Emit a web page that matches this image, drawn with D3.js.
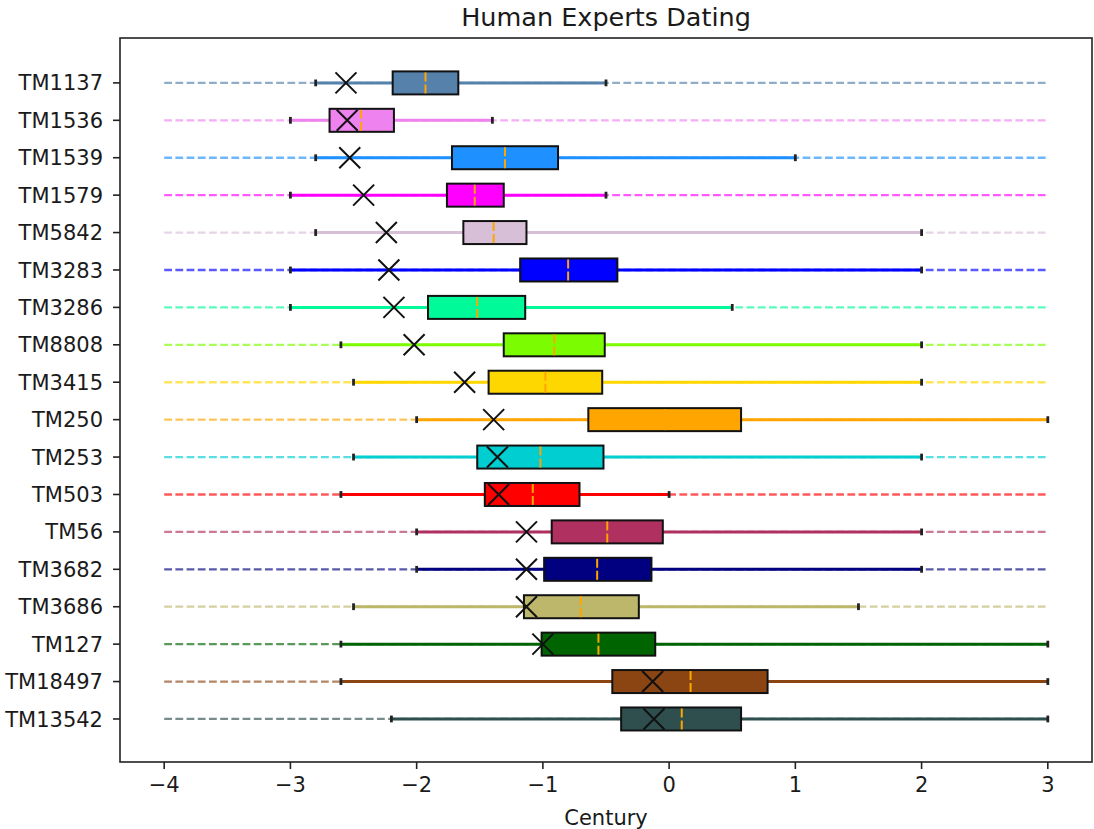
<!DOCTYPE html>
<html>
<head>
<meta charset="utf-8">
<script src="https://cdn.jsdelivr.net/npm/d3@7"></script>
<style>
  html, body { margin: 0; padding: 0; background: #fff; }
  svg { display: block; }
  text { font-family: "DejaVu Sans", sans-serif; fill: #1a1a1a; }
</style>
</head>
<body>
<svg id="chart" width="1094" height="829"></svg>
<script>
const categories = ["TM1137","TM1536","TM1539","TM1579","TM5842","TM3283","TM3286","TM8808","TM3415",
                    "TM250","TM253","TM503","TM56","TM3682","TM3686","TM127","TM18497","TM13542"];
const mins    = [-2.8,-3.0,-2.8,-3.0,-2.8,-3.0,-3.0,-2.6,-2.5,-2.0,-2.5,-2.6,-2.0,-2.0,-2.5,-2.6,-2.6,-2.2];
const q1s     = [-2.19,-2.69,-1.72,-1.76,-1.63,-1.18,-1.91,-1.31,-1.43,-0.64,-1.52,-1.46,-0.93,-0.99,-1.15,-1.01,-0.45,-0.38];
const medians = [-1.93,-2.44,-1.30,-1.54,-1.39,-0.80,-1.52,-0.91,-0.98,-0.03,-1.02,-1.08,-0.49,-0.57,-0.70,-0.56,0.17,0.10];
const q3s     = [-1.67,-2.18,-0.88,-1.31,-1.13,-0.41,-1.14,-0.51,-0.53,0.57,-0.52,-0.71,-0.05,-0.14,-0.24,-0.11,0.78,0.57];
const maxs    = [-0.5,-1.4,1.0,-0.5,2.0,2.0,0.5,2.0,2.0,3.0,2.0,0.0,2.0,2.0,1.5,3.0,3.0,3.0];
const xMarks  = [-2.56,-2.55,-2.53,-2.42,-2.24,-2.22,-2.18,-2.02,-1.62,-1.39,-1.36,-1.35,-1.13,-1.13,-1.13,-1.00,-0.13,-0.12];
const colors  = ["#5581aa","violet","dodgerblue","magenta","thistle","blue","mediumspringgreen","lawngreen","gold",
                 "orange","darkturquoise","red","#b03060","navy","darkkhaki","darkgreen","saddlebrown","darkslategray"];
const fullRange = [-4, 3];
const xTicks = [-4,-3,-2,-1,0,1,2,3];
const title = "Human Experts Dating";
const xLabel = "Century";

const data = categories.map((c, i) => ({
  name: c, i, min: mins[i], q1: q1s[i], med: medians[i], q3: q3s[i], max: maxs[i], mark: xMarks[i], color: colors[i]
}));

const L = 120, R = 1092, T = 38, B = 762;
const svg = d3.select("#chart");
const x = d3.scaleLinear().domain([-4.35, 3.35]).range([L, R]);
const y = d3.scaleLinear().domain([-1.2, 18.15]).range([T, B]);
const boxH = 23;

const g = svg.append("g");

// full range dashed lines
g.selectAll(".full").data(data).enter().append("line")
  .attr("x1", x(fullRange[0])).attr("x2", x(fullRange[1]))
  .attr("y1", d => y(d.i)).attr("y2", d => y(d.i))
  .attr("stroke", d => d.color).attr("stroke-opacity", 0.65)
  .attr("stroke-width", 2.3).attr("stroke-dasharray", "7.8,3.4");

// whisker lines
g.selectAll(".wh").data(data).enter().append("line")
  .attr("x1", d => x(d.min)).attr("x2", d => x(d.max))
  .attr("y1", d => y(d.i)).attr("y2", d => y(d.i))
  .attr("stroke", d => d.color).attr("stroke-width", 3);

// caps
data.forEach(d => {
  [d.min, d.max].forEach(v => {
    g.append("line")
      .attr("x1", x(v)).attr("x2", x(v))
      .attr("y1", y(d.i) - 3.4).attr("y2", y(d.i) + 3.4)
      .attr("stroke", "#222").attr("stroke-width", 2.8);
  });
});

// boxes
g.selectAll(".box").data(data).enter().append("rect")
  .attr("x", d => x(d.q1)).attr("width", d => x(d.q3) - x(d.q1))
  .attr("y", d => y(d.i) - boxH / 2).attr("height", boxH)
  .attr("fill", d => d.color).attr("stroke", "#111").attr("stroke-width", 2);

// medians
g.selectAll(".med").data(data).enter().append("line")
  .attr("x1", d => x(d.med)).attr("x2", d => x(d.med))
  .attr("y1", d => y(d.i) - boxH / 2 + 1).attr("y2", d => y(d.i) + boxH / 2 - 1)
  .attr("stroke", "orange").attr("stroke-width", 2);

// whisker line through box (over median)
g.selectAll(".inner").data(data).enter().append("line")
  .attr("x1", d => x(d.q1) + 1.5).attr("x2", d => x(d.q3) - 1.5)
  .attr("y1", d => y(d.i)).attr("y2", d => y(d.i))
  .attr("stroke", d => d.color).attr("stroke-width", 3);

// X markers
const ms = 10.5;
data.forEach(d => {
  const cx = x(d.mark), cy = y(d.i);
  g.append("path")
    .attr("d", `M${cx - ms},${cy - ms}L${cx + ms},${cy + ms}M${cx - ms},${cy + ms}L${cx + ms},${cy - ms}`)
    .attr("stroke", "#111").attr("stroke-width", 2).attr("fill", "none");
});

// axes frame
svg.append("rect").attr("x", L).attr("y", T).attr("width", R - L).attr("height", B - T)
  .attr("fill", "none").attr("stroke", "#222").attr("stroke-width", 1.6);

// y ticks
const yAxis = svg.append("g");
data.forEach(d => {
  yAxis.append("line").attr("x1", L - 7).attr("x2", L).attr("y1", y(d.i)).attr("y2", y(d.i))
    .attr("stroke", "#222").attr("stroke-width", 1.6);
  yAxis.append("text").attr("x", L - 17).attr("y", y(d.i)).attr("dy", "0.36em")
    .attr("text-anchor", "end").attr("font-size", 21).text(d.name);
});

// x ticks
const xAxis = svg.append("g");
xTicks.forEach(t => {
  xAxis.append("line").attr("x1", x(t)).attr("x2", x(t)).attr("y1", B).attr("y2", B + 7)
    .attr("stroke", "#222").attr("stroke-width", 1.6);
  xAxis.append("text").attr("x", x(t)).attr("y", B + 30)
    .attr("text-anchor", "middle").attr("font-size", 21)
    .text(t < 0 ? "\u2212" + Math.abs(t) : String(t));
});

svg.append("text").attr("x", (L + R) / 2).attr("y", 825).attr("text-anchor", "middle")
  .attr("font-size", 21).text(xLabel);
svg.append("text").attr("x", (L + R) / 2).attr("y", 25.5).attr("text-anchor", "middle")
  .attr("font-size", 25.5).text(title);
</script>
</body>
</html>
